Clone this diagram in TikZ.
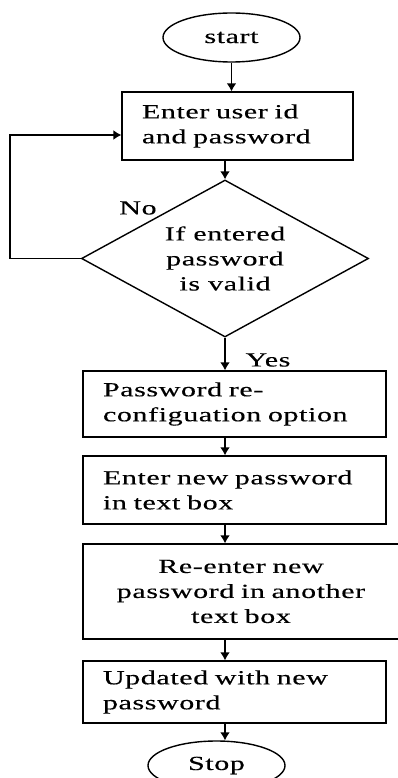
\documentclass[tikz,border=0pt]{standalone}
\usepackage{fontspec}
\setmainfont{Liberation Serif}[FakeStretch=1.5,LetterSpace=3,FakeBold=0.3]
\usetikzlibrary{arrows.meta,shapes.geometric}

\begin{document}
\begin{tikzpicture}[x=1pt,y=-1pt,line width=1.4pt,font=\fontsize{20}{25}\selectfont,
  term/.style={draw,ellipse,minimum width=137pt,minimum height=49pt,inner sep=0pt},
  stepbox/.style={draw,rectangle,inner xsep=20pt,inner ysep=0pt,text width=263pt,align=left},
  test/.style={draw,diamond,aspect=1.83,minimum width=287pt,minimum height=157pt,inner sep=0pt,align=center},
  arr/.style={-{Latex[length=8pt,width=10pt]},line width=1.8pt}]
\useasboundingbox (0,0) rectangle (398,778);
\node[term] (start) at (231.5,37.5) {start};
\node[stepbox,text width=191pt,minimum height=68pt] (login) at (237.5,126) {Enter user id\\and password};
\node[test] (valid) at (225,258.5) {If entered\\password\\is valid};
\node (no) at (138,208) {No};
\node[stepbox,minimum height=66pt] (reconf) at (234.5,404) {Password re-\\configuation option};
\node[stepbox,minimum height=68pt] (newpw) at (234.5,490) {Enter new password\\in text box};
\node[stepbox,text width=276pt,minimum height=95pt,align=center] (repw) at (241,591.5) {Re-enter new\\password in another\\text box};
\node[stepbox,minimum height=62pt] (update) at (234.5,692) {Updated with new\\password};
\node[term] (stop) at (216.5,765.5) {Stop};
\node (yes) at (268,360) {Yes};
\draw[arr] (start.south) -- (start.south |- login.north);
\draw[arr] (login.south -| valid.north) -- (valid.north);
\draw[line width=1.4pt,-{Latex[length=8pt,width=10pt]}] (valid.west) -- ++(-71,0) |- ([yshift=-9pt]login.west);
\draw[arr] (valid.south) -- (valid.south |- reconf.north);
\draw[arr] (reconf.south -| valid.south) -- (newpw.north -| valid.south);
\draw[arr] (newpw.south -| valid.south) -- (repw.north -| valid.south);
\draw[arr] (repw.south -| valid.south) -- (update.north -| valid.south);
\draw[arr] (update.south -| valid.south) -- (stop.north -| valid.south);
\end{tikzpicture}
\end{document}
